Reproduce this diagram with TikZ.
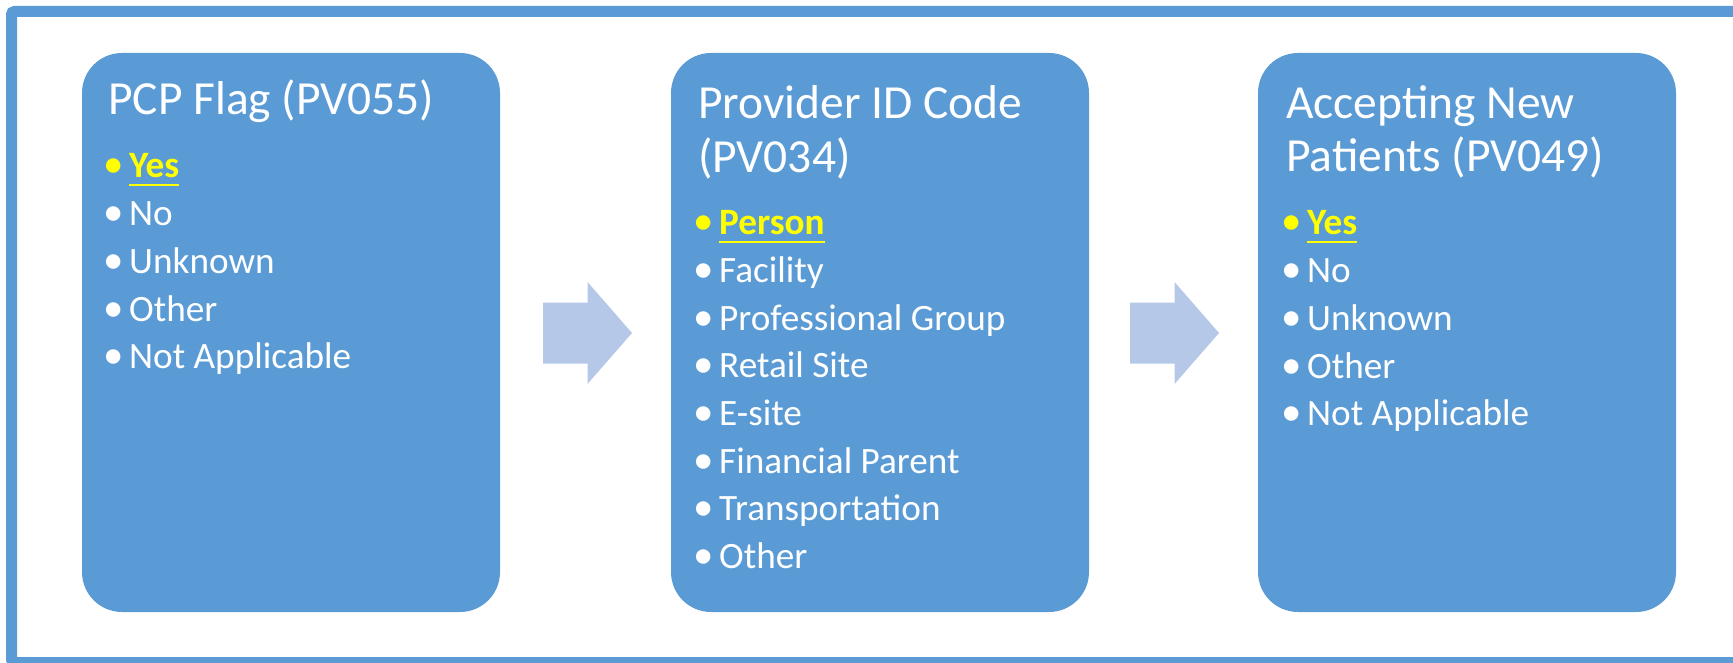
\documentclass[tikz,border=0pt]{standalone}
\usepackage{fontspec}
\setmainfont{Carlito}

\definecolor{boxblue}{HTML}{5B9BD5}
\definecolor{arrowblue}{HTML}{B5C8E8}
\definecolor{pickyellow}{HTML}{FFFF00}
\newcommand{\bul}{\makebox[21pt][l]{\hspace*{-4.5pt}\scalebox{1.1}{\textbullet}}}
\newcommand{\ulpick}[1]{\setbox0=\hbox{#1}\rlap{\rule[-8.2pt]{\wd0}{2.6pt}}\box0}

\begin{document}
\begin{tikzpicture}[x=1pt, y=-1pt,
    field/.style={fill=boxblue, rounded corners=40pt, minimum width=418pt, minimum height=559pt, inner sep=0pt},
    boxhead/.style={anchor=base west, inner sep=0pt, text=white, font=\fontsize{47.5}{54}\selectfont},
    boxitem/.style={anchor=base west, inner sep=0pt, text=white, font=\fontsize{37.2}{44}\selectfont},
    boxpick/.style={boxitem, text=pickyellow},
    flow/.style={fill=arrowblue}]
      \clip (0,0) rectangle (1733,663);
      \draw[boxblue, line width=11pt, rounded corners=3pt] (11.5,11.5) rectangle (1760,662.5);

      % three fields
      \node[field] (b1) at (291,332.5) {};
      \node[field] (b2) at (880,332.5) {};
      \node[field] (b3) at (1467,332.5) {};

      % arrows between them
      \coordinate (a1) at (587.5,333);
      \coordinate (a2) at (1174.5,333);
      \foreach \a in {a1,a2}
        \fill[flow, shift={(\a)}] (-44.5,-30.5) -- (0,-30.5) -- (0,-51) -- (44.5,0)
          -- (0,51) -- (0,30.5) -- (-44.5,30.5) -- cycle;

      % PCP flag
      \node[boxhead] (h1) at (108,115) {PCP Flag (PV055)};
      \node[boxpick] (p1) at (108,178) {\bul\ulpick{\bfseries Yes}};
      \foreach \t [count=\i] in {No, Unknown, Other, Not Applicable}
        \node[boxitem] (i1-\i) at (108,{178+47.7*\i}) {\bul\t};

      % provider id code
      \node[boxhead] (h2a) at (698,119) {Provider ID Code};
      \node[boxhead] (h2b) at (698,173) {(PV034)};
      \node[boxpick] (p2) at (698,235) {\bul\ulpick{\bfseries Person}};
      \foreach \t [count=\i] in {Facility, Professional Group, Retail Site, E-site, Financial Parent, Transportation, Other}
        \node[boxitem] (i2-\i) at (698,{235+47.6*\i}) {\bul\t};

      % accepting new patients
      \node[boxhead] (h3a) at (1286,119) {Accepting New};
      \node[boxhead] (h3b) at (1286,172) {Patients (PV049)};
      \node[boxpick] (p3) at (1286,235) {\bul\ulpick{\bfseries Yes}};
      \foreach \t [count=\i] in {No, Unknown, Other, Not Applicable}
        \node[boxitem] (i3-\i) at (1286,{235+47.7*\i}) {\bul\t};
\end{tikzpicture}
\end{document}
